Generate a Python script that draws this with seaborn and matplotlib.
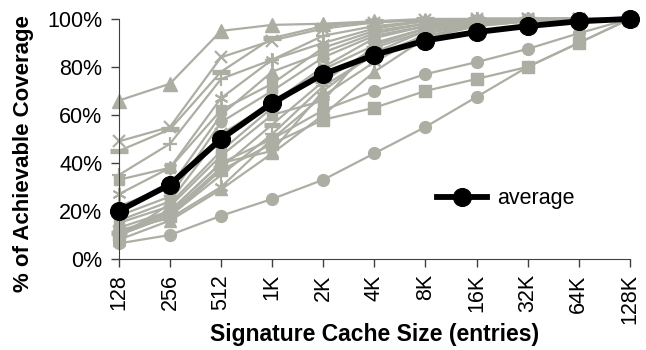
import seaborn as sns
import pandas as pd
import numpy as np
import matplotlib.pyplot as plt
from matplotlib.ticker import FuncFormatter

# cache sizes on the x axis
sizes = ["128", "256", "512", "1K", "2K", "4K", "8K", "16K", "32K", "64K", "128K"]

# per-benchmark coverage curves (%)
s01 = [66, 73, 95, 97.5, 98, 99, 99.5, 100, 100, 100, 100]
s02 = [49, 55, 84, 91, 96, 98.5, 99.5, 100, 100, 100, 100]
s03 = [45, 54, 78, 92, 97, 99, 100, 100, 100, 100, 100]
s04 = [35, 48, 75, 83, 93, 97, 99, 100, 100, 100, 100]
s05 = [33, 38, 62, 73, 88, 95, 98, 99.5, 100, 100, 100]
s06 = [27, 38, 67, 83, 90, 96, 99, 100, 100, 100, 100]
s07 = [22, 30, 60, 78, 86, 94, 98, 99, 100, 100, 100]
s08 = [18, 26, 57, 70, 84, 93, 97, 99, 100, 100, 100]
s09 = [16, 24, 52, 65, 80, 92, 97, 99, 100, 100, 100]
s10 = [15, 22, 43, 60, 66, 90, 96, 98.5, 100, 100, 100]
s11 = [13, 20, 40, 45, 70, 86, 95, 98, 99.5, 100, 100]
s12 = [12, 17, 30, 50, 68, 82, 94, 97.5, 99, 100, 100]
s13 = [11, 19, 38, 56, 74, 88, 95, 98, 99.5, 100, 100]
s14 = [10, 18, 35, 52, 72, 85, 93, 97, 99, 100, 100]
s15 = [11, 20, 40, 50, 62, 70, 77, 82, 87.5, 94, 100]
s16 = [10, 18, 37, 48, 58, 63, 70, 75, 80, 90, 100]
s17 = [6.5, 10, 18, 25, 33, 44, 55, 67.5, 80, 90, 100]
s18 = [8, 16, 29, 44, 60, 78, 92, 97, 99, 100, 100]
s19 = [9, 23, 45, 63, 79, 89, 96, 99, 100, 100, 100]
average = [20, 31, 50, 65, 77, 85, 91, 94.5, 97, 99, 100]

series = [s01, s02, s03, s04, s05, s06, s07, s08, s09, s10,
          s11, s12, s13, s14, s15, s16, s17, s18, s19]

# excel-ish marker styles (marker, size, edge width)
star = (6, 2, 0)
styles = [("^", 10, 1), ("x", 9, 1.6), ("_", 13, 3.8), ("+", 10, 1.6), ("s", 7.5, 1),
          (star, 10, 1.4), ("^", 9, 1), ("o", 7.5, 1), ("x", 9, 1.6), ("s", 7.5, 1),
          ("^", 9, 1), (star, 10, 1.4), ("_", 11, 3.8), ("+", 10, 1.6), ("o", 8.5, 1),
          ("s", 8, 1), ("o", 8.5, 1), ("^", 9, 1), ("s", 7.5, 1)]

gray = "#ADAEA3"
x = np.arange(len(sizes))

plt.rcParams['font.family'] = ['Liberation Sans', 'DejaVu Sans']

fig = plt.figure(figsize=(6.46, 3.5), dpi=100)
ax = fig.add_axes([0.184, 0.26, 0.791, 0.686])

for vals, (m, ms, mew) in zip(series, styles):
    sns.lineplot(x=x, y=vals, ax=ax, color=gray, lw=1.6, marker=m,
                 markersize=ms, markeredgewidth=mew, markeredgecolor=gray,
                 clip_on=False, zorder=2)

sns.lineplot(x=x, y=average, ax=ax, color="black", lw=4.2, marker="o",
             markersize=13, markeredgecolor="black", clip_on=False,
             zorder=5, label="average")

ax.set_xlim(0, 10)
ax.set_ylim(0, 100)
ax.set_xticks(x)
ax.set_xticklabels(sizes, rotation=90, fontsize=15.5)
ax.set_yticks(range(0, 101, 20))
ax.yaxis.set_major_formatter(FuncFormatter(lambda v, p: "%d%%" % v))
ax.tick_params(axis="y", labelsize=15.5, pad=6)
ax.tick_params(axis="x", pad=5)
ax.tick_params(direction="out", length=6, color="#404040", width=1)
for s in ["top", "right"]:
    ax.spines[s].set_visible(False)
for s in ["left", "bottom"]:
    ax.spines[s].set_color("#404040")

ax.set_xlabel("Signature Cache Size (entries)", fontsize=16.5, fontweight="bold")
ax.xaxis.set_label_coords(0.5, -0.265)
ax.set_ylabel("% of Achievable Coverage", fontsize=16, fontweight="bold")
ax.yaxis.set_label_coords(-0.166, 0.44)

ax.legend(loc="center left", bbox_to_anchor=(0.585, 0.25), frameon=False,
          fontsize=15.5, handlelength=2.3, handletextpad=0.5)

fig.savefig("out.png", dpi=100)
